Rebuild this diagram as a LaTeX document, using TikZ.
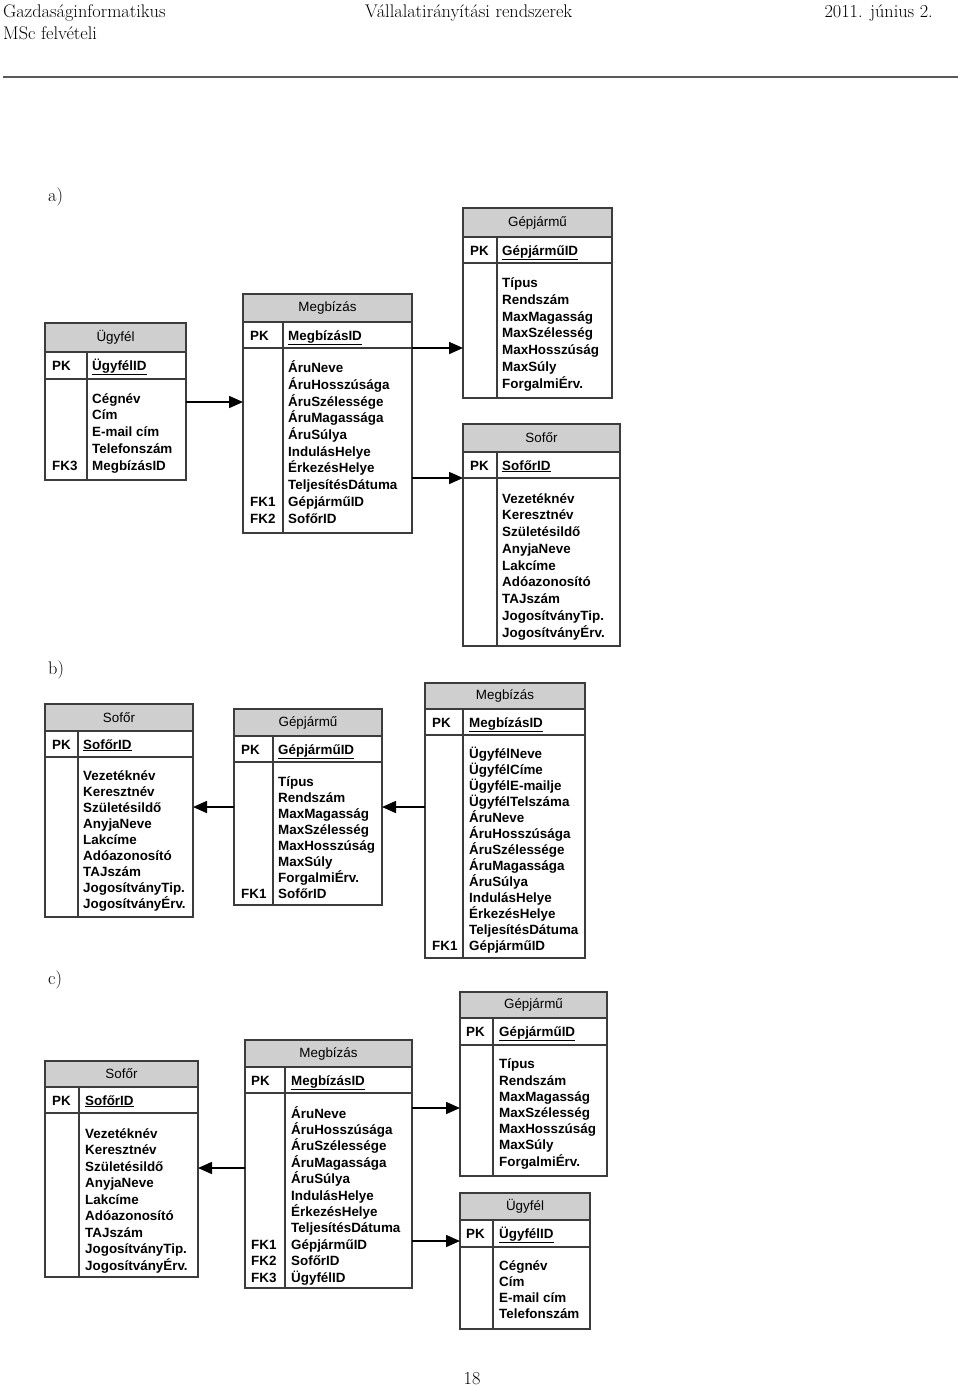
\documentclass[tikz,border=0pt]{standalone}
\usepackage{fontspec}
\newfontfamily\tblfont{Liberation Sans}
\usetikzlibrary{arrows.meta,positioning,calc}
\definecolor{tblgray}{RGB}{207,207,207}
\definecolor{tblline}{RGB}{60,60,60}
\tikzset{
  tblhead/.style={draw=tblline,line width=1.2pt,fill=tblgray,inner sep=0pt,outer sep=0pt,
    font=\tblfont\fontsize{13.4}{16}\selectfont},
  tblrow/.style={draw=tblline,line width=1.2pt,inner sep=0pt,outer sep=0pt},
  % multi-line texts sit on the baseline of their last line
  keytxt/.style={anchor=base west,inner sep=0pt,align=left,
    font=\tblfont\bfseries\fontsize{13.4}{#1}\selectfont},
  keytxt/.default=16.5,
  fkarrow/.style={line width=1.6pt,-{Triangle[length=14pt,width=12pt]}},
  pagetxt/.style={inner sep=0pt,font=\fontsize{18.3}{22}\selectfont}
}
\begin{document}
\begin{tikzpicture}[x=1pt,y=-1pt]
  \useasboundingbox (0,0) rectangle (960,1387);

  %% page head
  \node[pagetxt,anchor=base west] (headL) at (3,17) {Gazdaságinformatikus};
  \node[pagetxt,anchor=base west] (headL2) at (3,39) {MSc felvételi};
  \node[pagetxt,anchor=base west] (headM) at (365,17) {Vállalatirányítási rendszerek};
  \node[pagetxt,anchor=base east] (headR) at (933,17) {2011. június 2.};
  \draw[line width=2pt,black!65] (3,77) -- (958,77);

  \node[pagetxt,anchor=base west] (labA) at (48,201) {a)};
  \node[pagetxt,anchor=base west] (labB) at (48,674) {b)};
  \node[pagetxt,anchor=base west] (labC) at (48,984) {c)};
  \node[pagetxt,anchor=base] (pageNo) at (472,1384) {18};

  %% a) Ugyfel
  \node[tblhead,minimum width=141pt,minimum height=29pt] (aUgy-h) at (115.5,337.5) {Ügyfél};
  \node[tblrow,minimum width=141pt,minimum height=27pt,anchor=north] (aUgy-pk) at (aUgy-h.south) {};
  \node[tblrow,minimum width=141pt,minimum height=101pt,anchor=north] (aUgy) at (aUgy-pk.south) {};
  \draw[tblrow] ([xshift=42pt]aUgy-pk.north west) -- ([xshift=42pt]aUgy.south west);
  \node[keytxt] (aUgy-k) at (52,370) {PK};
  \node[keytxt] (aUgy-id) at (92,370) {\underline{ÜgyfélID}};
  \node[keytxt=16.75] (aUgy-f) at (92,470) {Cégnév\\Cím\\E-mail cím\\Telefonszám\\MegbízásID};
  \node[keytxt] (aUgy-fk) at (52,470) {FK3};

  %% a) Megbizas
  \node[tblhead,minimum width=169pt,minimum height=28pt] (aMeg-h) at (327.5,308) {Megbízás};
  \node[tblrow,minimum width=169pt,minimum height=26pt,anchor=north] (aMeg-pk) at (aMeg-h.south) {};
  \node[tblrow,minimum width=169pt,minimum height=185pt,anchor=north] (aMeg) at (aMeg-pk.south) {};
  \draw[tblrow] ([xshift=40pt]aMeg-pk.north west) -- ([xshift=40pt]aMeg.south west);
  \node[keytxt] (aMeg-k) at (250,340) {PK};
  \node[keytxt] (aMeg-id) at (288,340) {\underline{MegbízásID}};
  \node[keytxt=16.67] (aMeg-f) at (288,523)
    {ÁruNeve\\ÁruHosszúsága\\ÁruSzélessége\\ÁruMagassága\\ÁruSúlya\\IndulásHelye\\ÉrkezésHelye\\TeljesítésDátuma\\GépjárműID\\SofőrID};
  \node[keytxt=16.67] (aMeg-fk) at (250,523) {FK1\\FK2};

  %% a) Gepjarmu
  \node[tblhead,minimum width=149pt,minimum height=29pt] (aGep-h) at (537.5,222.5) {Gépjármű};
  \node[tblrow,minimum width=149pt,minimum height=26pt,anchor=north] (aGep-pk) at (aGep-h.south) {};
  \node[tblrow,minimum width=149pt,minimum height=135pt,anchor=north] (aGep) at (aGep-pk.south) {};
  \draw[tblrow] ([xshift=34pt]aGep-pk.north west) -- ([xshift=34pt]aGep.south west);
  \node[keytxt] (aGep-k) at (470,255) {PK};
  \node[keytxt] (aGep-id) at (502,255) {\underline{GépjárműID}};
  \node[keytxt=16.67] (aGep-f) at (502,388)
    {Típus\\Rendszám\\MaxMagasság\\MaxSzélesség\\MaxHosszúság\\MaxSúly\\ForgalmiÉrv.};

  %% a) Sofor
  \node[tblhead,minimum width=157pt,minimum height=28pt] (aSof-h) at (541.5,438) {Sofőr};
  \node[tblrow,minimum width=157pt,minimum height=26pt,anchor=north] (aSof-pk) at (aSof-h.south) {};
  \node[tblrow,minimum width=157pt,minimum height=168pt,anchor=north] (aSof) at (aSof-pk.south) {};
  \draw[tblrow] ([xshift=34pt]aSof-pk.north west) -- ([xshift=34pt]aSof.south west);
  \node[keytxt] (aSof-k) at (470,470) {PK};
  \node[keytxt] (aSof-id) at (502,470) {\underline{SofőrID}};
  \node[keytxt=16.75] (aSof-f) at (502,637)
    {Vezetéknév\\Keresztnév\\Születésildő\\AnyjaNeve\\Lakcíme\\Adóazonosító\\TAJszám\\JogosítványTip.\\JogosítványÉrv.};

  %% a) links
  \coordinate (aUgyOut) at ([yshift=27.5pt]aUgy.east);
  \draw[fkarrow] (aUgyOut) -- (aUgyOut -| aMeg.west);
  \draw[fkarrow] (aMeg-pk.south east) -- (aMeg-pk.south east -| aGep.west);
  \draw[fkarrow] (aMeg.east |- aSof-pk.south) -- (aSof-pk.south west);

  %% b) Sofor
  \node[tblhead,minimum width=148pt,minimum height=27pt] (bSof-h) at (119,717.5) {Sofőr};
  \node[tblrow,minimum width=148pt,minimum height=26pt,anchor=north] (bSof-pk) at (bSof-h.south) {};
  \node[tblrow,minimum width=148pt,minimum height=160pt,anchor=north] (bSof) at (bSof-pk.south) {};
  \draw[tblrow] ([xshift=33pt]bSof-pk.north west) -- ([xshift=33pt]bSof.south west);
  \node[keytxt] (bSof-k) at (52,749) {PK};
  \node[keytxt] (bSof-id) at (83,749) {\underline{SofőrID}};
  \node[keytxt=16] (bSof-f) at (83,908)
    {Vezetéknév\\Keresztnév\\Születésildő\\AnyjaNeve\\Lakcíme\\Adóazonosító\\TAJszám\\JogosítványTip.\\JogosítványÉrv.};

  %% b) Gepjarmu
  \node[tblhead,minimum width=148pt,minimum height=27pt] (bGep-h) at (308,722.5) {Gépjármű};
  \node[tblrow,minimum width=148pt,minimum height=26pt,anchor=north] (bGep-pk) at (bGep-h.south) {};
  \node[tblrow,minimum width=148pt,minimum height=143pt,anchor=north] (bGep) at (bGep-pk.south) {};
  \draw[tblrow] ([xshift=39pt]bGep-pk.north west) -- ([xshift=39pt]bGep.south west);
  \node[keytxt] (bGep-k) at (241,754) {PK};
  \node[keytxt] (bGep-id) at (278,754) {\underline{GépjárműID}};
  \node[keytxt=16] (bGep-f) at (278,898)
    {Típus\\Rendszám\\MaxMagasság\\MaxSzélesség\\MaxHosszúság\\MaxSúly\\ForgalmiÉrv.\\SofőrID};
  \node[keytxt] (bGep-fk) at (241,898) {FK1};

  %% b) Megbizas
  \node[tblhead,minimum width=160pt,minimum height=26pt] (bMeg-h) at (505,696) {Megbízás};
  \node[tblrow,minimum width=160pt,minimum height=26pt,anchor=north] (bMeg-pk) at (bMeg-h.south) {};
  \node[tblrow,minimum width=160pt,minimum height=223pt,anchor=north] (bMeg) at (bMeg-pk.south) {};
  \draw[tblrow] ([xshift=38pt]bMeg-pk.north west) -- ([xshift=38pt]bMeg.south west);
  \node[keytxt] (bMeg-k) at (432,727) {PK};
  \node[keytxt] (bMeg-id) at (469,727) {\underline{MegbízásID}};
  \node[keytxt=16] (bMeg-f) at (469,950)
    {ÜgyfélNeve\\ÜgyfélCíme\\ÜgyfélE-mailje\\ÜgyfélTelszáma\\ÁruNeve\\ÁruHosszúsága\\ÁruSzélessége\\ÁruMagassága\\ÁruSúlya\\IndulásHelye\\ÉrkezésHelye\\TeljesítésDátuma\\GépjárműID};
  \node[keytxt] (bMeg-fk) at (432,950) {FK1};

  %% b) links
  \coordinate (bLink) at ([yshift=26.5pt]bGep.west);
  \draw[fkarrow] (bLink) -- (bLink -| bSof.east);
  \draw[fkarrow] (bLink -| bMeg.west) -- (bLink -| bGep.east);

  %% c) Sofor
  \node[tblhead,minimum width=153pt,minimum height=26pt] (cSof-h) at (121.5,1074) {Sofőr};
  \node[tblrow,minimum width=153pt,minimum height=26pt,anchor=north] (cSof-pk) at (cSof-h.south) {};
  \node[tblrow,minimum width=153pt,minimum height=164pt,anchor=north] (cSof) at (cSof-pk.south) {};
  \draw[tblrow] ([xshift=34pt]cSof-pk.north west) -- ([xshift=34pt]cSof.south west);
  \node[keytxt] (cSof-k) at (52,1105) {PK};
  \node[keytxt] (cSof-id) at (85,1105) {\underline{SofőrID}};
  \node[keytxt=16.5] (cSof-f) at (85,1270)
    {Vezetéknév\\Keresztnév\\Születésildő\\AnyjaNeve\\Lakcíme\\Adóazonosító\\TAJszám\\JogosítványTip.\\JogosítványÉrv.};

  %% c) Megbizas
  \node[tblhead,minimum width=167pt,minimum height=27pt] (cMeg-h) at (328.5,1053.5) {Megbízás};
  \node[tblrow,minimum width=167pt,minimum height=26pt,anchor=north] (cMeg-pk) at (cMeg-h.south) {};
  \node[tblrow,minimum width=167pt,minimum height=195pt,anchor=north] (cMeg) at (cMeg-pk.south) {};
  \draw[tblrow] ([xshift=40pt]cMeg-pk.north west) -- ([xshift=40pt]cMeg.south west);
  \node[keytxt] (cMeg-k) at (251,1085) {PK};
  \node[keytxt] (cMeg-id) at (291,1085) {\underline{MegbízásID}};
  \node[keytxt=16.4] (cMeg-f) at (291,1282)
    {ÁruNeve\\ÁruHosszúsága\\ÁruSzélessége\\ÁruMagassága\\ÁruSúlya\\IndulásHelye\\ÉrkezésHelye\\TeljesítésDátuma\\GépjárműID\\SofőrID\\ÜgyfélID};
  \node[keytxt=16.4] (cMeg-fk) at (251,1282) {FK1\\FK2\\FK3};

  %% c) Gepjarmu
  \node[tblhead,minimum width=147pt,minimum height=26pt] (cGep-h) at (533.5,1005) {Gépjármű};
  \node[tblrow,minimum width=147pt,minimum height=27pt,anchor=north] (cGep-pk) at (cGep-h.south) {};
  \node[tblrow,minimum width=147pt,minimum height=131pt,anchor=north] (cGep) at (cGep-pk.south) {};
  \draw[tblrow] ([xshift=33pt]cGep-pk.north west) -- ([xshift=33pt]cGep.south west);
  \node[keytxt] (cGep-k) at (466,1036) {PK};
  \node[keytxt] (cGep-id) at (499,1036) {\underline{GépjárműID}};
  \node[keytxt=16.2] (cGep-f) at (499,1166)
    {Típus\\Rendszám\\MaxMagasság\\MaxSzélesség\\MaxHosszúság\\MaxSúly\\ForgalmiÉrv.};

  %% c) Ugyfel
  \node[tblhead,minimum width=130pt,minimum height=27pt] (cUgy-h) at (525,1206.5) {Ügyfél};
  \node[tblrow,minimum width=130pt,minimum height=27pt,anchor=north] (cUgy-pk) at (cUgy-h.south) {};
  \node[tblrow,minimum width=130pt,minimum height=82pt,anchor=north] (cUgy) at (cUgy-pk.south) {};
  \draw[tblrow] ([xshift=33pt]cUgy-pk.north west) -- ([xshift=33pt]cUgy.south west);
  \node[keytxt] (cUgy-k) at (466,1238) {PK};
  \node[keytxt] (cUgy-id) at (499,1238) {\underline{ÜgyfélID}};
  \node[keytxt=15.7] (cUgy-f) at (499,1318) {Cégnév\\Cím\\E-mail cím\\Telefonszám};

  %% c) links
  \coordinate (cLinkS) at ([yshift=22.5pt]cMeg.west);
  \draw[fkarrow] (cLinkS) -- (cLinkS -| cSof.east);
  \coordinate (cLinkG) at ([yshift=82.5pt]cMeg.east);
  \draw[fkarrow] (cLinkG) -- (cLinkG -| cGep.west);
  \coordinate (cLinkU) at ([yshift=-50.5pt]cMeg.east);
  \draw[fkarrow] (cLinkU) -- (cLinkU -| cUgy.west);
\end{tikzpicture}
\end{document}
